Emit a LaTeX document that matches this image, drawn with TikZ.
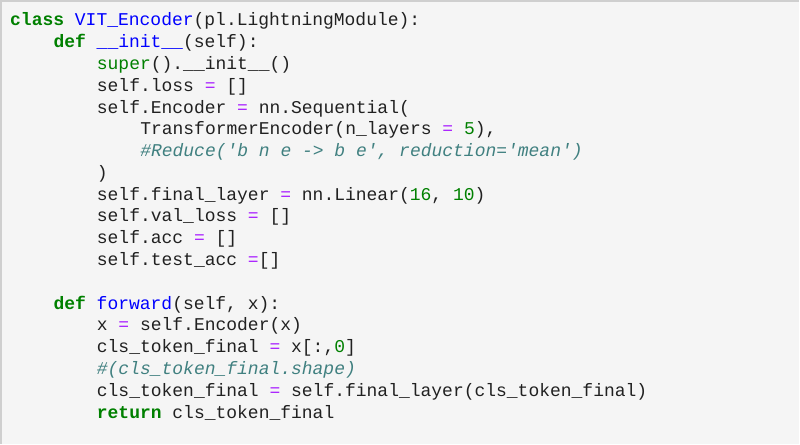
\documentclass[tikz,border=0pt]{standalone}
\usepackage{fontspec}
\setmonofont{Liberation Mono}
\usepackage{tikz}
\usetikzlibrary{positioning}

\definecolor{kwgreen}{HTML}{008000}
\definecolor{fnblue}{HTML}{0000FF}
\definecolor{oppurple}{HTML}{AA22FF}
\definecolor{cmteal}{HTML}{408080}
\definecolor{cellbg}{HTML}{F5F5F5}
\definecolor{cellline}{HTML}{CFCFCF}

\newcommand{\kw}[1]{\textcolor{kwgreen}{\bfseries #1}}
\newcommand{\fn}[1]{\textcolor{fnblue}{#1}}
\newcommand{\bi}[1]{\textcolor{kwgreen}{#1}}
\newcommand{\op}[1]{\textcolor{oppurple}{#1}}
\newcommand{\nm}[1]{\textcolor{kwgreen}{#1}}
\newcommand{\cm}[1]{\textcolor{cmteal}{\itshape #1}}

\begin{document}
\begin{tikzpicture}[x=1pt, y=1pt]
      \tikzstyle{code} = [
        anchor = base west,
        inner sep = 0pt,
        text = black!87,
        font = \ttfamily\fontsize{18}{18}\selectfont
      ]

      % cell
      \fill[cellbg] (0,0) rectangle (800,-444);
      \draw[cellline, line width=1.5pt] (1,-444) -- (1,-1) -- (800,-1);
      \useasboundingbox (0,0) rectangle (800,-444);

      \node[code] (l0) at (10,-26) {\kw{class} \fn{VIT\_Encoder}(pl.LightningModule):};
      \node[code] (l1) at (53.4,-47.8) {\kw{def} \fn{\_\_init\_\_}(self):};
      \node[code] (l2) at (96.8,-69.6) {\bi{super}().\_\_init\_\_()};
      \node[code] (l3) at (96.8,-91.4) {self.loss \op{=} []};
      \node[code] (l4) at (96.8,-113.2) {self.Encoder \op{=} nn.Sequential(};
      \node[code] (l5) at (140.2,-135) {TransformerEncoder(n\_layers \op{=} \nm{5}),};
      \node[code] (l6) at (140.2,-156.8) {\cm{\#Reduce('b n e -> b e', reduction='mean')}};
      \node[code] (l7) at (96.8,-178.6) {)};
      \node[code] (l8) at (96.8,-200.4) {self.final\_layer \op{=} nn.Linear(\nm{16}, \nm{10})};
      \node[code] (l9) at (96.8,-222.2) {self.val\_loss \op{=} []};
      \node[code] (l10) at (96.8,-244) {self.acc \op{=} []};
      \node[code] (l11) at (96.8,-265.8) {self.test\_acc \op{=}[]};

      \node[code] (l13) at (53.4,-309.4) {\kw{def} \fn{forward}(self, x):};
      \node[code] (l14) at (96.8,-331.2) {x \op{=} self.Encoder(x)};
      \node[code] (l15) at (96.8,-353) {cls\_token\_final \op{=} x[:,\nm{0}]};
      \node[code] (l16) at (96.8,-374.8) {\cm{\#(cls\_token\_final.shape)}};
      \node[code] (l17) at (96.8,-396.6) {cls\_token\_final \op{=} self.final\_layer(cls\_token\_final)};
      \node[code] (l18) at (96.8,-418.4) {\kw{return} cls\_token\_final};
    \end{tikzpicture}
\end{document}
